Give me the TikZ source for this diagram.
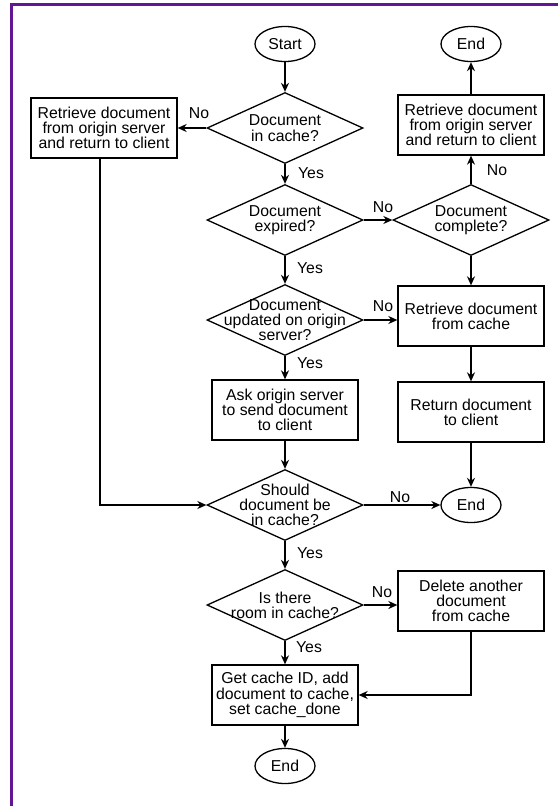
\documentclass[tikz,border=0pt]{standalone}
\usepackage{fontspec}
\setmainfont{Liberation Sans}
\usetikzlibrary{shapes.geometric,arrows.meta}
\definecolor{framepurple}{RGB}{98,22,148}

\begin{document}
\begin{tikzpicture}[x=1pt,y=-1pt,line width=1.3pt,
        node font=\fontsize{15.8}{15.3}\selectfont,
        box/.style={draw,rectangle,minimum width=146pt,minimum height=60pt,align=center,inner sep=1pt},
        decision/.style={draw,diamond,aspect=2.2,minimum width=156pt,minimum height=71pt,inner sep=-14pt,align=center},
        term/.style={draw,ellipse,minimum width=60pt,minimum height=35pt,inner sep=0pt},
        arr/.style={-{Stealth[length=9pt,width=8pt]}}]
        \useasboundingbox (0,0) rectangle (558,806);
        \draw [framepurple,line width=3pt] (558,4) -- (11,4) -- (11,806);
        \node [term] (start) at (285,44) {Start};
        \node [decision] (cached) at (285,128) {Document\\in cache?};
        \node [box] (fetch) at (104,128) {Retrieve document\\from origin server\\and return to client};
        \node [decision] (expired) at (285,220) {Document\\expired?};
        \node [decision] (complete) at (471,220) {Document\\complete?};
        \node [box] (refetch) at (471,125) {Retrieve document\\from origin server\\and return to client};
        \node [term] (endtop) at (471,44) {End};
        \node [decision] (updated) at (285,320) {Document\\updated on origin\\server?};
        \node [box] (fromcache) at (471,316) {Retrieve document\\from cache};
        \node [box] (askorigin) at (285,410) {Ask origin server\\to send document\\to client};
        \node [box] (toclient) at (471,412) {Return document\\to client};
        \node [decision] (shouldcache) at (285,505) {Should\\document be\\in cache?};
        \node [term] (endmid) at (471,505) {End};
        \node [decision] (room) at (285,605) {Is there\\room in cache?};
        \node [box] (delete) at (471,601) {Delete another\\document\\from cache};
        \node [box] (getid) at (285,695) {Get cache ID, add\\document to cache,\\set cache\_done};
        \node [term] (endbot) at (285,766) {End};
        \foreach \name/\x/\y/\word in {no1/199/113/No,yes1/311/173/Yes,no2/383/207/No,no3/497/170/No,
                yes2/310/268/Yes,no4/383/306/No,yes3/310/363/Yes,no5/400/497/No,yes4/310/553/Yes,
                no6/382/592/No,yes5/309/647/Yes}
            \node [inner sep=0pt] (\name) at (\x,\y) {\word};
        \foreach \a/\b in {start/cached,cached/fetch,cached/expired,expired/complete,complete/refetch,
                refetch/endtop,expired/updated,complete/fromcache,updated/askorigin,fromcache/toclient,
                askorigin/shouldcache,toclient/endmid,shouldcache/endmid,shouldcache/room,room/getid,getid/endbot}
            \draw [arr] (\a) -- (\b);
        \draw [arr] (updated.east) -- (updated.east -| fromcache.west);
        \draw [arr] (room.east) -- (room.east -| delete.west);
        \draw [arr] ([xshift=-4pt]fetch.south) |- (shouldcache.west);
        \draw [arr] (delete.south) |- (getid.east);
    \end{tikzpicture}
\end{document}
